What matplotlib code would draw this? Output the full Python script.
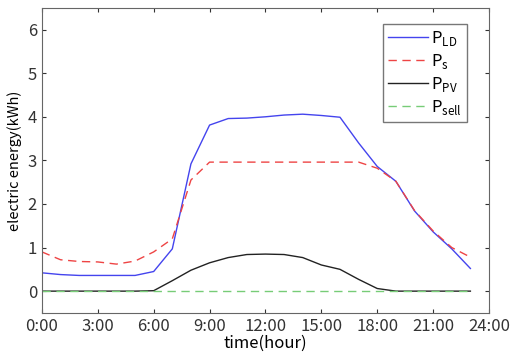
import matplotlib
matplotlib.use("Agg")
import matplotlib.pyplot as plt

plt.rcParams['font.family'] = ['Noto Sans CJK JP', 'DejaVu Sans']

hours = list(range(24))
p_ld = [0.42, 0.38, 0.36, 0.36, 0.36, 0.36, 0.45, 0.97, 2.92, 3.81, 3.96, 3.97, 4.0,
        4.04, 4.06, 4.03, 3.99, 3.4, 2.86, 2.52, 1.84, 1.36, 0.97, 0.52]
p_s = [0.9, 0.72, 0.68, 0.67, 0.62, 0.69, 0.9, 1.2, 2.55, 2.96, 2.96, 2.96, 2.96,
       2.96, 2.96, 2.96, 2.96, 2.96, 2.82, 2.52, 1.85, 1.38, 1.0, 0.78]
p_pv = [0, 0, 0, 0, 0, 0, 0.01, 0.24, 0.48, 0.65, 0.77, 0.84, 0.85,
        0.84, 0.77, 0.6, 0.5, 0.27, 0.06, 0.0, 0, 0, 0, 0]
p_sell = [0] * 24
xtick_labels = ["0:00", "3:00", "6:00", "9:00", "12:00", "15:00", "18:00", "21:00", "24:00"]

fig = plt.figure(figsize=(5.11, 3.56), dpi=100)
ax = fig.add_axes([0.082, 0.121, 0.875, 0.857])

ax.plot(hours, p_ld, color="#4444ee", lw=1.0, label="P$_{\\mathregular{LD}}$")
ax.plot(hours, p_s, color="#ee4444", lw=1.0, ls=(0, (6, 4)), label="P$_{\\mathregular{s}}$")
ax.plot(hours, p_pv, color="#222222", lw=1.0, label="P$_{\\mathregular{PV}}$")
ax.plot(hours, p_sell, color="#77cc77", lw=1.0, ls=(0, (6, 4)), label="P$_{\\mathregular{sell}}$")

ax.set_xlim(0, 24)
ax.set_ylim(-0.5, 6.5)
ax.set_xticks(range(0, 25, 3))
ax.set_xticklabels(xtick_labels)
ax.set_yticks(range(0, 7))
ax.tick_params(direction="in", top=True, right=True, labelsize=12, colors="#333333", length=3)
for s in ax.spines.values():
    s.set_color("#666666")

ax.set_xlabel("time(hour)", fontsize=12, labelpad=0)
ax.set_ylabel("electric energy(kWh)", fontsize=10.5, labelpad=4)

leg = ax.legend(loc="upper right", fontsize=12, fancybox=False, handlelength=2.4,
                handletextpad=0.2, labelspacing=0.25, borderpad=0.3,
                bbox_to_anchor=(0.97, 0.975))
leg.get_frame().set_edgecolor("#555555")

plt.savefig("out.png", dpi=100)
